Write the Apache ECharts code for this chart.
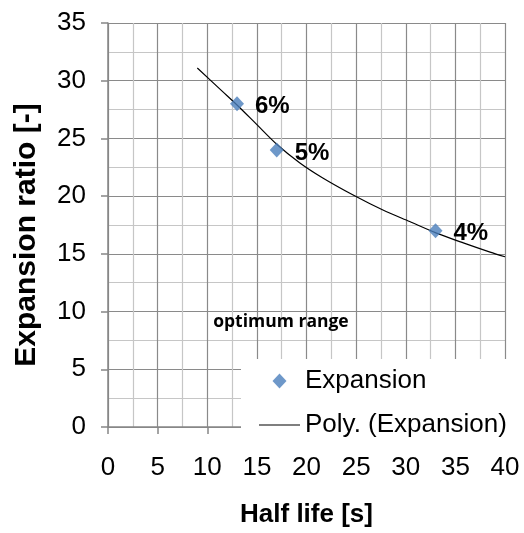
<!DOCTYPE html>
<html>
<head>
<meta charset="utf-8">
<script src="https://cdn.jsdelivr.net/npm/echarts@6/dist/echarts.min.js"></script>
<style>
html,body{margin:0;padding:0;background:#fff;}
#chart{width:524px;height:533px;}
</style>
</head>
<body>
<div id="chart"></div>
<script>
// Measured data points
const halfLife = [13, 17, 33];
const expansionRatio = [28, 24, 17];
const pointLabels = ['6%', '5%', '4%'];

// Polynomial trendline
const trendX = [9, 11.5, 13, 15, 17, 19.3, 21.6, 24.7, 27.7, 30.4, 33.1, 35.8, 38.5, 40];
const trendY = [31.1, 29.1, 27.9, 26.2, 24.5, 22.9, 21.6, 20.1, 18.8, 17.8, 16.8, 15.95, 15.15, 14.75];

// Annotation
const annotationText = 'optimum range';
const annotationPos = [10.6, 9.1];

const xTitle = 'Half life [s]';
const yTitle = 'Expansion ratio [-]';
const seriesNames = ['Expansion', 'Poly. (Expansion)'];

const FONT = "'Liberation Sans', Arial, sans-serif";
const chart = echarts.init(document.getElementById('chart'), null, {renderer: 'canvas'});

const scatterData = halfLife.map((x, i) => ({value: [x, expansionRatio[i]], label: {formatter: pointLabels[i]}}));
const trendData = trendX.map((x, i) => [x, trendY[i]]);

const axisCommon = {
  axisLine: {show: true, onZero: false, lineStyle: {color: '#868686', width: 1.5}},
  axisTick: {show: true, inside: false, length: 7, lineStyle: {color: '#868686', width: 1.5}},
  splitLine: {show: true, lineStyle: {color: '#8a8a8a', width: 1.2}},
  minorTick: {show: false, splitNumber: 2},
  minorSplitLine: {show: true, lineStyle: {color: '#c6c6c6', width: 1.2}},
  axisLabel: {color: '#000', fontFamily: FONT, fontSize: 26},
  nameLocation: 'middle',
  nameTextStyle: {color: '#000', fontFamily: FONT, fontWeight: 'bold'}
};

chart.setOption({
  animation: false,
  backgroundColor: '#fff',
  grid: {left: 108, right: 19, top: 23, bottom: 103, containLabel: false},
  xAxis: Object.assign({}, axisCommon, {
    type: 'value', min: 0, max: 40, interval: 5,
    name: xTitle, nameGap: 75,
    nameTextStyle: Object.assign({}, axisCommon.nameTextStyle, {fontSize: 26}),
    axisLabel: Object.assign({}, axisCommon.axisLabel, {margin: 28})
  }),
  yAxis: Object.assign({}, axisCommon, {
    type: 'value', min: 0, max: 35, interval: 5,
    name: yTitle, nameGap: 66,
    nameTextStyle: Object.assign({}, axisCommon.nameTextStyle, {fontSize: 30, padding: [0, 20, 0, 0]}),
    axisLabel: Object.assign({}, axisCommon.axisLabel, {margin: 22})
  }),
  legend: {
    orient: 'vertical',
    left: 241, top: 359,
    padding: [9, 8, 12, 18],
    itemGap: 18,
    itemWidth: 41, itemHeight: 15,
    symbolKeepAspect: true,
    backgroundColor: '#fff',
    textStyle: {color: '#000', fontFamily: FONT, fontSize: 26, lineHeight: 26},
    data: [
      {name: seriesNames[0], icon: 'path://M7,0L14,7.5L7,15L0,7.5Z'},
      {name: seriesNames[1], icon: 'path://M0,0L41,0L41,1.2L0,1.2Z'}
    ]
  },
  series: [
    {
      name: seriesNames[1],
      type: 'line',
      data: trendData,
      smooth: 0.3,
      showSymbol: false,
      symbol: 'none',
      lineStyle: {color: '#000', width: 1.2},
      itemStyle: {color: '#000'},
      z: 2,
      markPoint: {
        symbol: 'circle', symbolSize: 0,
        data: [{coord: annotationPos, value: annotationText}],
        label: {show: true, position: 'right', distance: 0, formatter: annotationText,
          color: '#000', fontFamily: "'Open Sans', sans-serif", fontWeight: 'bold', fontSize: 17.5}
      }
    },
    {
      name: seriesNames[0],
      type: 'scatter',
      data: scatterData,
      symbol: 'diamond',
      symbolSize: [14, 15],
      itemStyle: {color: '#4A7EBB'},
      z: 3,
      label: {show: true, position: 'right', distance: 11, offset: [0, 3],
        color: '#000', opacity: 1, textBorderWidth: 0, fontFamily: FONT, fontWeight: 'bold', fontSize: 24}
    }
  ]
});
</script>
</body>
</html>
